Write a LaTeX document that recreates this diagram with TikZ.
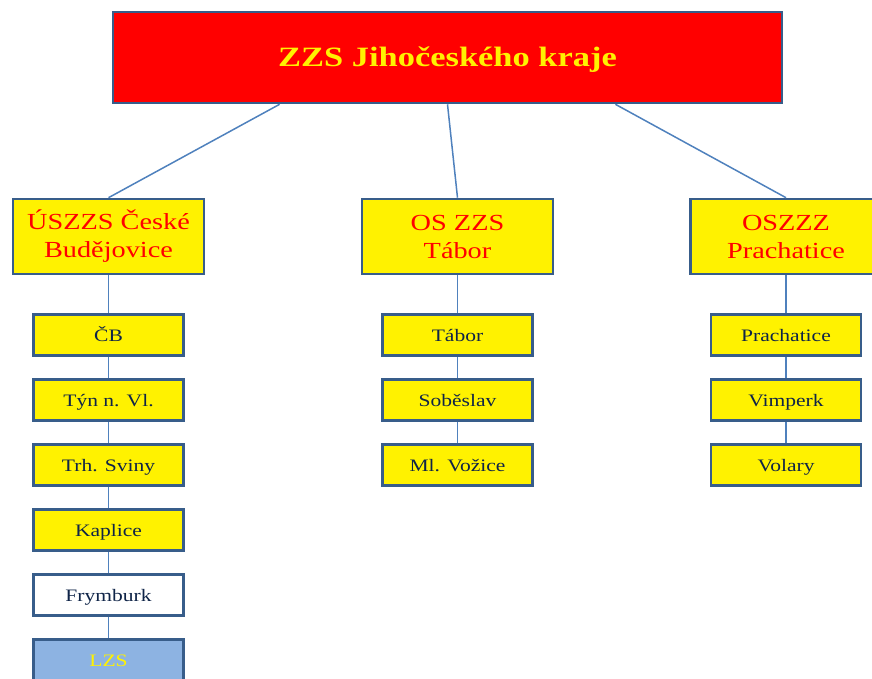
\documentclass[tikz,border=0pt]{standalone}
\usepackage{fontspec}
\setmainfont[FakeStretch=1.23]{Liberation Serif}
\usetikzlibrary{positioning,calc}

\definecolor{zzsborder}{RGB}{56,93,138}
\definecolor{zzsline}{RGB}{79,129,189}
\definecolor{zzsnavy}{RGB}{15,36,72}
\definecolor{zzsblue}{RGB}{141,179,226}

\begin{document}
\begin{tikzpicture}[x=1pt,y=-1pt,node distance=65pt,
                    semithick]
  \tikzstyle{every node}=[rectangle,draw=zzsborder,line width=2.6pt,inner sep=0pt]
  \tikzstyle{head}=[fill=yellow,text=red,minimum width=191pt,minimum height=75pt,
                    align=center,font=\fontsize{23}{28}\selectfont]
  \tikzstyle{leaf}=[fill=yellow,text=zzsnavy,minimum width=150pt,minimum height=41pt,
                    text height=14pt,text depth=1pt,font=\fontsize{17.5}{21}\selectfont]
  \tikzstyle{link}=[draw=zzsline,line width=1.5pt]

  \useasboundingbox (0,0) rectangle (872,679);
  \clip (0,0) rectangle (872,679);

  \node[fill=red,text=yellow,minimum width=669pt,minimum height=91pt,text height=22pt,text depth=3pt,
        font=\bfseries\fontsize{28}{32}\selectfont] (top) at (447.5,57.5) {ZZS Jihočeského kraje};

  \node[head] (cbu) at (108.5,236.5) {ÚSZZS České\\Budějovice};
  \node[head] (tab) at (457.5,236.5) {OS ZZS\\Tábor};
  \node[head] (pra) at (786,236.5) {OSZZZ\\Prachatice};

  % Ceske Budejovice
  \node[leaf] (cb)  at (108.5,335) {ČB};
  \node[leaf] (tyn) [below of=cb]  {Týn n. Vl.};
  \node[leaf] (trh) [below of=tyn] {Trh. Sviny};
  \node[leaf] (kap) [below of=trh] {Kaplice};
  \node[leaf,fill=white] (fry) [below of=kap] {Frymburk};
  \node[leaf,fill=zzsblue,text=yellow] (lzs) [below of=fry] {LZS};

  % Tabor
  \node[leaf] (tab1) at (457.5,335) {Tábor};
  \node[leaf] (sob)  [below of=tab1] {Soběslav};
  \node[leaf] (mlv)  [below of=sob]  {Ml. Vožice};

  % Prachatice
  \node[leaf] (pra1) at (786,335) {Prachatice};
  \node[leaf] (vim)  [below of=pra1] {Vimperk};
  \node[leaf] (vol)  [below of=vim]  {Volary};

  \draw[link] ($(top.south west)!0.25!(top.south east)$) -- (cbu.north);
  \draw[link] (top.south) -- (tab.north);
  \draw[link] ($(top.south west)!0.75!(top.south east)$) -- (pra.north);

  \draw[link] (cbu) -- (cb) -- (tyn) -- (trh) -- (kap) -- (fry) -- (lzs);
  \draw[link] (tab) -- (tab1) -- (sob) -- (mlv);
  \draw[link] (pra) -- (pra1) -- (vim) -- (vol);
\end{tikzpicture}
\end{document}
